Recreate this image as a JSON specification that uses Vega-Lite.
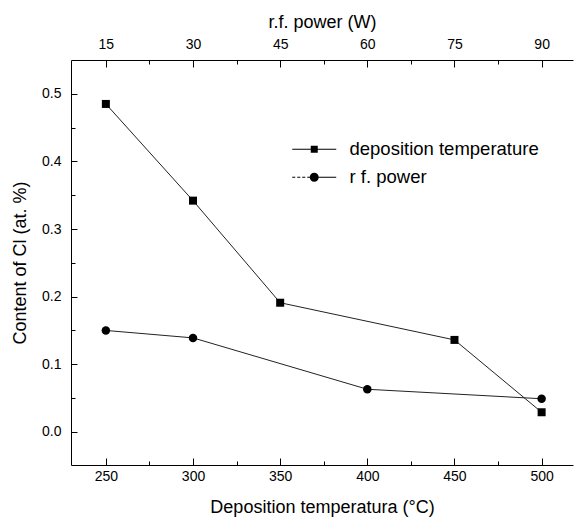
{
  "$schema": "https://vega.github.io/schema/vega-lite/v6.json",
  "autosize": {"type": "none"},
  "padding": {"left": 71, "top": 60, "right": 2, "bottom": 57},
  "width": 502,
  "height": 405,
  "background": "white",
  "config": {
    "view": {"stroke": null},
    "font": "Liberation Sans",
    "axis": {"domainColor": "black", "tickColor": "black", "labelColor": "black", "titleColor": "black", "grid": false, "labelFont": "Liberation Sans", "titleFont": "Liberation Sans", "titleFontWeight": "normal", "labelFontSize": 14, "titleFontSize": 18, "labelFlush": false, "labelOverlap": false}
  },
  "datasets": {
    "temp": [
      {"series": "deposition temperature", "temperature": 250, "content": 0.485},
      {"series": "deposition temperature", "temperature": 300, "content": 0.342},
      {"series": "deposition temperature", "temperature": 350, "content": 0.191},
      {"series": "deposition temperature", "temperature": 450, "content": 0.136},
      {"series": "deposition temperature", "temperature": 500, "content": 0.029}
    ],
    "power": [
      {"series": "r f. power", "power": 15, "content": 0.15},
      {"series": "r f. power", "power": 30, "content": 0.139},
      {"series": "r f. power", "power": 60, "content": 0.063},
      {"series": "r f. power", "power": 90, "content": 0.049}
    ],
    "legend": [
      {"series": "deposition temperature"},
      {"series": "r f. power"}
    ]
  },
  "encoding": {
    "y": {
      "field": "content", "type": "quantitative",
      "scale": {"domain": [-0.049, 0.55], "nice": false, "zero": false},
      "axis": {
        "title": "Content of Cl (at. %)",
        "values": [0, 0.05, 0.1, 0.15, 0.2, 0.25, 0.3, 0.35, 0.4, 0.45, 0.5],
        "labelExpr": "abs(datum.value*10 - round(datum.value*10)) < 0.001 ? format(datum.value, '.1f') : ''",
        "tickSize": {"condition": {"test": "abs(datum.value*10 - round(datum.value*10)) < 0.001", "value": -6}, "value": -4},
        "labelPadding": 16,
        "titlePadding": 12
      }
    }
  },
  "layer": [
    {
      "data": {"name": "temp"},
      "encoding": {
        "x": {
          "field": "temperature", "type": "quantitative",
          "scale": {"domain": [230, 518], "nice": false, "zero": false},
          "axis": {
            "orient": "bottom",
            "title": "Deposition temperatura (°C)",
            "values": [250, 275, 300, 325, 350, 375, 400, 425, 450, 475, 500],
            "labelExpr": "datum.value % 50 === 0 ? datum.label : ''",
            "tickSize": {"condition": {"test": "datum.value % 50 === 0", "value": -7}, "value": -4},
            "labelPadding": 11,
            "titlePadding": 12
          }
        }
      },
      "layer": [
        {"mark": {"type": "line", "color": "#222", "strokeWidth": 1}},
        {"mark": {"type": "point", "shape": "square", "filled": true, "color": "black", "opacity": 1, "size": 64}}
      ]
    },
    {
      "data": {"name": "power"},
      "encoding": {
        "x": {
          "field": "power", "type": "quantitative",
          "scale": {"domain": [9, 95.4], "nice": false, "zero": false},
          "axis": {
            "orient": "top",
            "title": "r.f. power (W)",
            "values": [15, 22.5, 30, 37.5, 45, 52.5, 60, 67.5, 75, 82.5, 90],
            "labelExpr": "datum.value % 15 === 0 ? datum.label : ''",
            "tickSize": {"condition": {"test": "datum.value % 15 === 0", "value": -7}, "value": -4},
            "labelPadding": 16,
            "titlePadding": 3
          }
        }
      },
      "layer": [
        {"mark": {"type": "line", "color": "#222", "strokeWidth": 1}},
        {"mark": {"type": "point", "shape": "circle", "filled": true, "color": "black", "opacity": 1, "size": 72}}
      ]
    },
    {
      "data": {"name": "legend"},
      "mark": {"type": "point", "filled": true, "color": "black", "opacity": 0},
      "encoding": {
        "shape": {
          "field": "series", "type": "nominal",
          "scale": {
            "domain": ["deposition temperature", "r f. power"],
            "range": [
              "M-4.4,-0.1H4.4V0.1H-4.4ZM-0.7,-0.7H0.7V0.7H-0.7Z",
              "M-4.4,-0.1H-3.8V0.1H-4.4ZM-3.4,-0.1H-2.8V0.1H-3.4ZM-2.4,-0.1H-1.8V0.1H-2.4ZM-1.4,-0.1H0V0.1H-1.4ZM0,-0.1H4.4V0.1H0ZM-0.9,0A0.9,0.9 0 1,1 0.9,0A0.9,0.9 0 1,1 -0.9,0Z"
            ]
          },
          "legend": {
            "title": null,
            "orient": "none",
            "legendX": 217,
            "legendY": 80,
            "padding": 0,
            "symbolSize": 100,
            "symbolOffset": 17,
            "labelOffset": 26,
            "labelLimit": 0,
            "labelFont": "Liberation Sans",
            "labelFontSize": 18.5,
            "labelColor": "black",
            "rowPadding": 9,
            "symbolFillColor": "black",
            "symbolStrokeColor": "transparent",
            "symbolStrokeWidth": 0,
            "symbolOpacity": 1,
            "encode": {
              "symbols": {
                "update": {
                  "fill": {"value": "black"},
                  "opacity": {"value": 1},
                  "fillOpacity": {"value": 1}
                }
              }
            }
          }
        }
      }
    }
  ],
  "resolve": {"scale": {"x": "independent"}}
}
